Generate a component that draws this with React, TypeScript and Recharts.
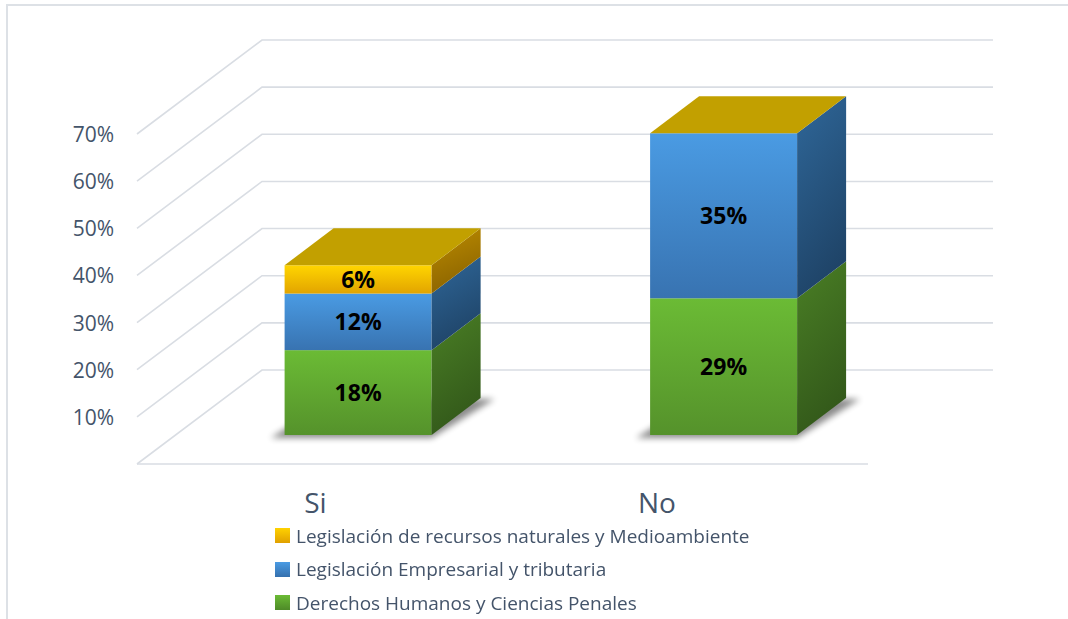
import React from 'react';
import { BarChart, Bar, XAxis, YAxis, CartesianGrid, LabelList } from 'recharts';

const categories = ['Si', 'No'];
const derechosHumanos = [0.18, 0.29];
const empresarial = [0.12, 0.35];
const medioambiente = [0.06, 0];
const yTicks = [0, 0.1, 0.2, 0.3, 0.4, 0.5, 0.6, 0.7];

const seriesNames = [
  'Derechos Humanos y Ciencias Penales',
  'Legislación Empresarial y tributaria',
  'Legislación de recursos naturales y Medioambiente',
];

const data = categories.map((cat, i) => ({
  cat,
  dh: derechosHumanos[i],
  emp: empresarial[i],
  amb: medioambiente[i],
}));

const W = 1068;
const H = 619;
const PLOT_LEFT = 175.6;
const PLOT_RIGHT = 906.6;
const PLOT_TOP = 105;
const PLOT_BOTTOM = 435;
const Y_AXIS_W = 60;
const X_AXIS_H = 30;

// oblique depth: grid front plane sits in front of the bars, back wall behind
const FRONT_DX = 38.6;
const FRONT_DY = 29;
const WALL_DX = 125;
const WALL_DY = 94;
const BAR_DX = 49;
const BAR_DY = 37;

const TEXT = '#44546A';
const FONT = '"Open Sans", sans-serif';
// category labels sit a little left of the bars (more so further right)
const X_LABEL_SHIFT = [-43, -67];

const GridLine = (p: any) => {
  const { x1, x2, y1 } = p;
  const fx = x1 - FRONT_DX;
  const fy = y1 + FRONT_DY;
  const bx = fx + WALL_DX;
  const by = fy - WALL_DY;
  const ex = x2 - FRONT_DX + WALL_DX;
  const isFloor = Math.abs(y1 - PLOT_BOTTOM) < 1;
  return (
    <g>
      <polyline points={`${fx},${fy} ${bx},${by} ${ex},${by}`} fill="none" stroke="#D9DDE3" strokeWidth={1.6} />
      {isFloor && <line x1={fx} y1={fy} x2={x2 - FRONT_DX} y2={fy} stroke="#D9DDE3" strokeWidth={1.6} />}
    </g>
  );
};

const YTick = (p: any) => {
  const v = p.payload.value;
  if (v === 0) return null;
  return (
    <text x={PLOT_LEFT - FRONT_DX - 23} y={p.y + FRONT_DY} textAnchor="end" dominantBaseline="central"
      fontFamily={FONT} fontSize={21} fill={TEXT}>
      {`${Math.round(v * 100)}%`}
    </text>
  );
};

const XTick = (p: any) => (
  <text x={p.x + (X_LABEL_SHIFT[p.index] ?? -50)} y={PLOT_BOTTOM + 78} textAnchor="middle"
    fontFamily={FONT} fontSize={28} fill={TEXT}>
    {p.payload.value}
  </text>
);

const Box3D = (p: any) => {
  const { x, y, width: w, height: h, front, side, top, shadow } = p;
  const b = y + h;
  return (
    <g>
      {shadow && (
        <polygon
          points={`${x - 14},${b + 3} ${x + w},${b + 3} ${x + w + BAR_DX + 14},${b - BAR_DY + 1} ${x + BAR_DX},${b - BAR_DY}`}
          fill="#000" opacity={0.45} filter="url(#blur)" />
      )}
      {h > 0 && <rect x={x} y={y} width={w} height={h} fill={`url(#${front})`} />}
      {h > 0 && (
        <polygon points={`${x + w},${y} ${x + w + BAR_DX},${y - BAR_DY} ${x + w + BAR_DX},${b - BAR_DY} ${x + w},${b}`}
          fill={`url(#${side})`} />
      )}
      {top && (
        <polygon points={`${x},${y} ${x + BAR_DX},${y - BAR_DY} ${x + w + BAR_DX},${y - BAR_DY} ${x + w},${y}`}
          fill="#C2A000" />
      )}
    </g>
  );
};

const fmt = (v: any) => (v ? `${Math.round(v * 100)}%` : '');

const legendItems = [
  { name: seriesNames[2], c1: '#FFD200', c2: '#E0A000' },
  { name: seriesNames[1], c1: '#4A9BE3', c2: '#3570AE' },
  { name: seriesNames[0], c1: '#6BBB35', c2: '#4E8A28' },
];

export default function App() {
  return (
    <div style={{ position: 'fixed', left: 0, top: 0, width: W, height: H, background: '#fff' }}>
      <div style={{ position: 'absolute', left: 0, top: 0 }}>
        <BarChart width={W} height={H} data={data}
          margin={{ top: PLOT_TOP, right: W - PLOT_RIGHT, bottom: H - PLOT_BOTTOM - X_AXIS_H, left: PLOT_LEFT - Y_AXIS_W }}
          barSize={147}>
          <defs>
            <filter id="blur" x="-20%" y="-50%" width="140%" height="200%">
              <feGaussianBlur stdDeviation="3" />
            </filter>
            <linearGradient id="gFront" x1="0" y1="0" x2="0" y2="1">
              <stop offset="0" stopColor="#6BBB35" />
              <stop offset="1" stopColor="#55922B" />
            </linearGradient>
            <linearGradient id="gSide" x1="0" y1="0" x2="0.3" y2="1">
              <stop offset="0" stopColor="#4A7F25" />
              <stop offset="1" stopColor="#33591A" />
            </linearGradient>
            <linearGradient id="bFront" x1="0" y1="0" x2="0" y2="1">
              <stop offset="0" stopColor="#4A9BE3" />
              <stop offset="1" stopColor="#3873B1" />
            </linearGradient>
            <linearGradient id="bSide" x1="0" y1="0" x2="0.3" y2="1">
              <stop offset="0" stopColor="#2F6799" />
              <stop offset="1" stopColor="#1F4468" />
            </linearGradient>
            <linearGradient id="yFront" x1="0" y1="0" x2="0" y2="1">
              <stop offset="0" stopColor="#FFD500" />
              <stop offset="1" stopColor="#E2A400" />
            </linearGradient>
            <linearGradient id="ySide" x1="0" y1="0" x2="0.3" y2="1">
              <stop offset="0" stopColor="#BC8C00" />
              <stop offset="1" stopColor="#8C6400" />
            </linearGradient>
          </defs>
          <CartesianGrid vertical={false} horizontal={(p: any) => <GridLine key={p.key} {...p} />} />
          <XAxis dataKey="cat" axisLine={false} tickLine={false} tick={<XTick />} height={X_AXIS_H} />
          <YAxis domain={[0, 0.7]} ticks={yTicks} axisLine={false} tickLine={false} tick={<YTick />} width={Y_AXIS_W} />
          <Bar dataKey="dh" name={seriesNames[0]} stackId="a" isAnimationActive={false}
            shape={(p: any) => <Box3D {...p} front="gFront" side="gSide" shadow />}>
            <LabelList dataKey="dh" position="center" formatter={fmt} fill="#000" fontFamily={FONT} fontWeight={700} fontSize={23} />
          </Bar>
          <Bar dataKey="emp" name={seriesNames[1]} stackId="a" isAnimationActive={false}
            shape={(p: any) => <Box3D {...p} front="bFront" side="bSide" />}>
            <LabelList dataKey="emp" position="center" formatter={fmt} fill="#000" fontFamily={FONT} fontWeight={700} fontSize={23} />
          </Bar>
          <Bar dataKey="amb" name={seriesNames[2]} stackId="a" isAnimationActive={false}
            shape={(p: any) => <Box3D {...p} front="yFront" side="ySide" top />}>
            <LabelList dataKey="amb" position="center" formatter={fmt} fill="#000" fontFamily={FONT} fontWeight={700} fontSize={23} />
          </Bar>
        </BarChart>
      </div>
      <div style={{ position: 'absolute', left: 275, top: 519, fontFamily: FONT, fontSize: 19, color: TEXT }}>
        {legendItems.map((it) => (
          <div key={it.name} style={{ display: 'flex', alignItems: 'center', height: 33.5 }}>
            <span style={{ width: 15, height: 15, marginRight: 6, background: `linear-gradient(${it.c1}, ${it.c2})` }} />
            <span>{it.name}</span>
          </div>
        ))}
      </div>
      <div style={{ position: 'absolute', left: 6, top: 4, width: W - 6, height: H - 4, boxSizing: 'border-box',
        borderTop: '2px solid #DDE1E6', borderLeft: '2px solid #DDE1E6', pointerEvents: 'none' }} />
    </div>
  );
}
